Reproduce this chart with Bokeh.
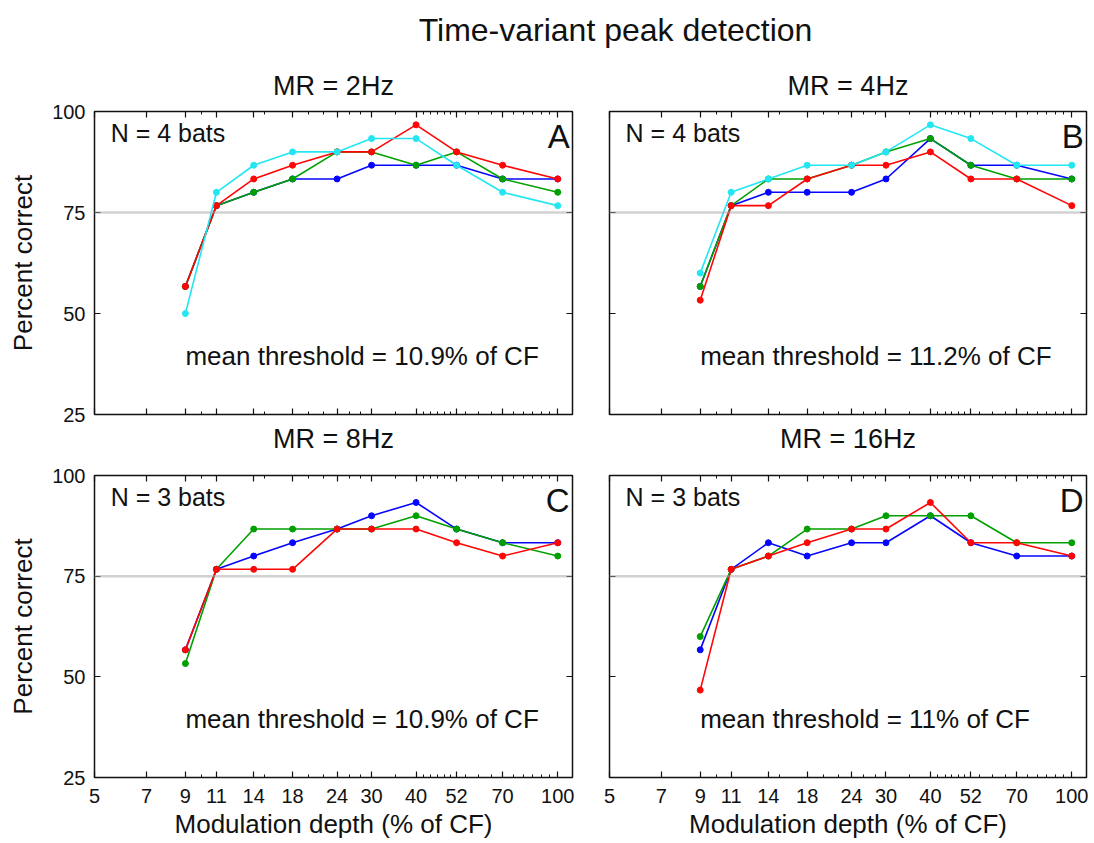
from bokeh.plotting import figure
from bokeh.models import Range1d, FixedTicker, LogAxis, LinearAxis, Span, Title
from bokeh.layouts import column, row
from bokeh.embed import file_html
from bokeh.resources import INLINE
from bokeh.core.properties import value

# ---------------- data ----------------
depths = [9, 11, 14, 18, 24, 30, 40, 52, 70, 100]
x_ticks = [5, 7, 9, 11, 14, 18, 24, 30, 40, 52, 70, 100]
x_tick_labels = ["5", "7", "9", "11", "14", "18", "24", "30", "40", "52", "70", "100"]
x_minor = [10, 15, 20, 22, 26, 28, 35, 42, 44, 46, 48, 50, 55, 60, 65, 75, 80, 85, 90, 95]
y_ticks = [25, 50, 75, 100]
criterion = 75

# Panel A (MR = 2 Hz)
a_blue = [56.7, 76.7, 80.0, 83.3, 83.3, 86.7, 86.7, 86.7, 83.3, 83.3]
a_green = [56.7, 76.7, 80.0, 83.3, 90.0, 90.0, 86.7, 90.0, 83.3, 80.0]
a_red = [56.7, 76.7, 83.3, 86.7, 90.0, 90.0, 96.7, 90.0, 86.7, 83.3]
a_cyan = [50.0, 80.0, 86.7, 90.0, 90.0, 93.3, 93.3, 86.7, 80.0, 76.7]
# Panel B (MR = 4 Hz)
b_blue = [56.7, 76.7, 80.0, 80.0, 80.0, 83.3, 93.3, 86.7, 86.7, 83.3]
b_green = [56.7, 76.7, 83.3, 83.3, 86.7, 90.0, 93.3, 86.7, 83.3, 83.3]
b_red = [53.3, 76.7, 76.7, 83.3, 86.7, 86.7, 90.0, 83.3, 83.3, 76.7]
b_cyan = [60.0, 80.0, 83.3, 86.7, 86.7, 90.0, 96.7, 93.3, 86.7, 86.7]
# Panel C (MR = 8 Hz)
c_blue = [56.7, 76.7, 80.0, 83.3, 86.7, 90.0, 93.3, 86.7, 83.3, 83.3]
c_green = [53.3, 76.7, 86.7, 86.7, 86.7, 86.7, 90.0, 86.7, 83.3, 80.0]
c_red = [56.7, 76.7, 76.7, 76.7, 86.7, 86.7, 86.7, 83.3, 80.0, 83.3]
# Panel D (MR = 16 Hz)
d_blue = [56.7, 76.7, 83.3, 80.0, 83.3, 83.3, 90.0, 83.3, 80.0, 80.0]
d_green = [60.0, 76.7, 80.0, 86.7, 86.7, 90.0, 90.0, 90.0, 83.3, 83.3]
d_red = [46.7, 76.7, 80.0, 83.3, 86.7, 86.7, 93.3, 83.3, 83.3, 80.0]

main_title = "Time-variant peak detection"
panel_titles = ["MR = 2Hz", "MR = 4Hz", "MR = 8Hz", "MR = 16Hz"]
n_texts = ["N = 4 bats", "N = 4 bats", "N = 3 bats", "N = 3 bats"]
thr_texts = ["mean threshold = 10.9% of CF", "mean threshold = 11.2% of CF",
             "mean threshold = 10.9% of CF", "mean threshold = 11% of CF"]
letters = ["A", "B", "C", "D"]
x_label = "Modulation depth (% of CF)"
y_label = "Percent correct"

COLORS = {"blue": "#0505ff", "green": "#00a000", "red": "#ff0505", "cyan": "#22e6f2"}
FONT = "Liberation Sans"


def style_axis(ax, show_labels, ticks):
    ax.axis_line_color = None
    ax.major_tick_in = 6
    ax.major_tick_out = 0
    ax.minor_tick_in = 3
    ax.minor_tick_out = 0
    ax.major_tick_line_color = "#111111"
    ax.minor_tick_line_color = "#111111"
    ax.major_tick_line_width = 1.2
    ax.minor_tick_line_width = 1
    ax.major_label_text_font = FONT
    ax.major_label_text_color = "#111111"
    if show_labels:
        ax.major_label_text_font_size = "20px"
    else:
        ax.major_label_overrides = {t: "" for t in ticks}
        ax.major_label_text_font_size = "1px"
        ax.major_label_standoff = 0
        ax.axis_label = None


def style_title(t, standoff):
    t.align = "center"
    t.text_font = FONT
    t.text_font_size = "27px"
    t.text_font_style = "normal"
    t.text_color = "#111111"
    t.standoff = standoff


def make_panel(series, idx, left_lab, bottom_lab, borders, fw, fh, own_title, below_title):
    bl, br, bt, bb = borders
    p = figure(frame_width=fw, frame_height=fh, x_axis_type="log",
               x_range=Range1d(5, 110), y_range=Range1d(25, 100),
               output_backend="svg", toolbar_location=None,
               min_border_left=bl, min_border_right=br,
               min_border_top=bt, min_border_bottom=bb)
    if own_title is not None:
        p.title.text = own_title
        style_title(p.title, 22)
    else:
        p.title.visible = False
    p.grid.visible = False
    p.outline_line_color = "#111111"
    p.outline_line_width = 1.5
    p.background_fill_color = "white"
    p.border_fill_color = "white"

    xt = FixedTicker(ticks=x_ticks, minor_ticks=x_minor)
    yt = FixedTicker(ticks=y_ticks, minor_ticks=[])

    xa = p.xaxis[0]
    xa.ticker = xt
    style_axis(xa, bottom_lab, x_ticks)
    if bottom_lab:
        xa.major_label_overrides = {t: s for t, s in zip(x_ticks, x_tick_labels)}
        xa.axis_label = x_label
        xa.axis_label_text_font = FONT
        xa.axis_label_text_font_size = "26px"
        xa.axis_label_text_font_style = "normal"
        xa.axis_label_text_color = "#111111"
        xa.major_label_standoff = 11
        xa.axis_label_standoff = 3

    ya = p.yaxis[0]
    ya.ticker = yt
    style_axis(ya, left_lab, y_ticks)
    if left_lab:
        ya.axis_label = y_label
        ya.axis_label_text_font = FONT
        ya.axis_label_text_font_size = "26px"
        ya.axis_label_text_font_style = "normal"
        ya.axis_label_text_color = "#111111"
        ya.major_label_standoff = 9
        ya.axis_label_standoff = 11

    top = LogAxis(ticker=FixedTicker(ticks=x_ticks, minor_ticks=x_minor))
    style_axis(top, False, x_ticks)
    p.add_layout(top, "above")
    right = LinearAxis(ticker=FixedTicker(ticks=y_ticks, minor_ticks=[]))
    style_axis(right, False, y_ticks)
    p.add_layout(right, "right")

    if below_title is not None:
        # title of the panel underneath, drawn in this canvas's lower margin
        bt_obj = Title(text=below_title)
        style_title(bt_obj, 14)
        p.add_layout(bt_obj, "below")

    p.add_layout(Span(location=criterion, dimension="width", line_color="#a4a4a4",
                      line_width=2.5, line_dash="1 1"))

    for cname, vals in series:
        c = COLORS[cname]
        p.line(depths, vals, line_color=c, line_width=1.6)
        p.scatter(depths, vals, size=6, color=c)

    p.text(x=[5.55], y=[94.7], text=[n_texts[idx]], text_font=value(FONT),
           text_font_size="25px", text_color="#111111",
           text_align="left", text_baseline="alphabetic")
    p.text(x=[108], y=[93.8], text=[letters[idx]], text_font=value(FONT),
           text_font_size="33px", text_color="#111111",
           text_align="right", text_baseline="alphabetic")
    p.text(x=[depths[0]], y=[39.6], text=[thr_texts[idx]], text_font=value(FONT),
           text_font_size="26px", text_color="#111111",
           text_align="left", text_baseline="alphabetic")
    return p


TITLE_H = 56
title_fig = figure(width=1094, height=TITLE_H, x_range=Range1d(0, 1094), y_range=Range1d(0, TITLE_H),
                   output_backend="svg", toolbar_location=None,
                   x_axis_location=None, y_axis_location=None,
                   min_border=0, outline_line_color=None)
title_fig.grid.visible = False
title_fig.text(x=[615], y=[26.5], text=[main_title], text_font=value(FONT),
               text_font_size="32px", text_color="#111111",
               text_align="center", text_baseline="alphabetic")

pA = make_panel([("blue", a_blue), ("green", a_green), ("red", a_red), ("cyan", a_cyan)],
                0, True, False, (94, 18, 55, 48), 478, 303, panel_titles[0], panel_titles[2])
pB = make_panel([("blue", b_blue), ("green", b_green), ("red", b_red), ("cyan", b_cyan)],
                1, False, False, (19, 8, 55, 48), 477, 303, panel_titles[1], panel_titles[3])
pC = make_panel([("blue", c_blue), ("green", c_green), ("red", c_red)],
                2, True, True, (94, 18, 13, 66), 478, 302, None, None)
pD = make_panel([("blue", d_blue), ("green", d_green), ("red", d_red)],
                3, False, True, (19, 8, 13, 66), 477, 302, None, None)

layout = column(title_fig, row(pA, pB), row(pC, pD))
open("out.html", "w").write(file_html(layout, INLINE))
